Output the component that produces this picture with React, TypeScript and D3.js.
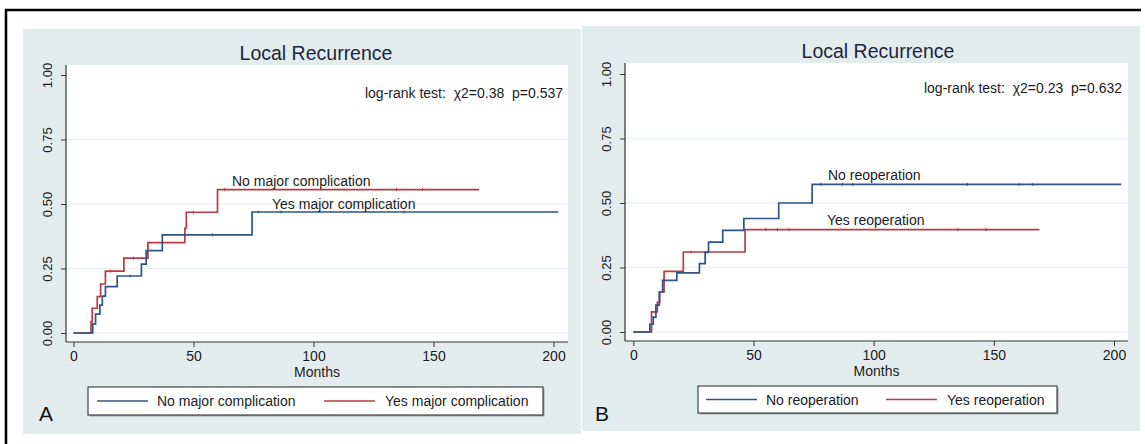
import React, { useEffect, useRef } from 'react';
import * as d3 from 'd3';

// ---- shared axis values ----
const monthTicks = [0, 50, 100, 150, 200];
const probTicks = [0, 0.25, 0.5, 0.75, 1];
const gridTicks = [0, 0.25, 0.5, 0.75];

// ---- panel A: major complication ----
const aNoMonths = [0, 8, 9.2, 11, 12, 13.3, 18.2, 28.3, 30.3, 37, 74.4, 202];
const aNoValues = [0, 0.035, 0.073, 0.108, 0.143, 0.18, 0.221, 0.267, 0.319, 0.38, 0.469, 0.469];
const aYesMonths = [0, 7.3, 7.8, 9.9, 11.3, 13.3, 21, 31, 46.4, 47, 60, 169];
const aYesValues = [0, 0.044, 0.096, 0.141, 0.19, 0.24, 0.29, 0.35, 0.406, 0.468, 0.556, 0.556];
const aNoCensor = [23.6, 58, 77, 86.5, 137.7];
const aYesCensor = [15.4, 25, 50, 63, 134.6, 145.4];
const aLegend = ['No major complication', 'Yes major complication'];
const aStat = 'log-rank test:  \u03C72=0.38  p=0.537';

// ---- panel B: reoperation ----
const bNoMonths = [0, 6.9, 8.3, 9.4, 10.8, 12.2, 18.1, 27.5, 29.9, 31.3, 37.2, 46, 60.5, 74.4, 203];
const bNoValues = [0, 0.03, 0.058, 0.104, 0.155, 0.2, 0.229, 0.265, 0.309, 0.348, 0.394, 0.44, 0.5, 0.572, 0.572];
const bYesMonths = [0, 7.6, 10, 11, 12.8, 20.8, 46.5, 169];
const bYesValues = [0, 0.078, 0.115, 0.155, 0.235, 0.31, 0.397, 0.397];
const bNoCensor = [78, 87, 91.3, 139, 160.6, 166];
const bYesCensor = [24, 55.2, 60, 64.7, 135, 146.7];
const bLegend = ['No reoperation', 'Yes reoperation'];
const bStat = 'log-rank test:  \u03C72=0.23  p=0.632';

const FONT = '"Liberation Sans", Arial, Helvetica, sans-serif';
const BG = '#e3eced';
const GRID = '#e6eef0';
const BLUE = '#2e5487';
const RED = '#b83a46';
const INK = '#1b1b1b';

const panels = [
  {
    letter: 'A',
    bg: [23, 29, 581, 434],
    plot: { left: 66, right: 568, top: 65, bottom: 342 },
    x0: 73.5, x200: 553.5, y0: 333, y1: 75,
    titleX: 316, titleY: 60,
    statRight: 563, statY: 98,
    no: { months: aNoMonths, values: aNoValues, censor: aNoCensor },
    yes: { months: aYesMonths, values: aYesValues, censor: aYesCensor },
    labels: [
      { text: 'No major complication', x: 232, y: 186 },
      { text: 'Yes major complication', x: 272, y: 209 },
    ],
    legendText: aLegend,
    legend: { x: 88, y: 387, w: 455, h: 28, l1: 97, t1: 157, l2: 324, t2: 385 },
    stat: aStat,
    letterX: 39, letterY: 421,
  },
  {
    letter: 'B',
    bg: [582, 26, 1140, 431],
    plot: { left: 625, right: 1128, top: 63, bottom: 341 },
    x0: 633.3, x200: 1114, y0: 332, y1: 74,
    titleX: 878, titleY: 58,
    statRight: 1122, statY: 93,
    no: { months: bNoMonths, values: bNoValues, censor: bNoCensor },
    yes: { months: bYesMonths, values: bYesValues, censor: bYesCensor },
    labels: [
      { text: 'No reoperation', x: 828, y: 180 },
      { text: 'Yes reoperation', x: 827, y: 225 },
    ],
    legendText: bLegend,
    legend: { x: 698, y: 386, w: 359, h: 27, l1: 706, t1: 766, l2: 886, t2: 947 },
    stat: bStat,
    letterX: 595, letterY: 421,
  },
];

const stepValue = (months, values, m) => {
  let v = values[0];
  months.forEach((t, i) => { if (t <= m) v = values[i]; });
  return v;
};

const drawPanel = (svg, p) => {
  const g = svg.append('g');

  g.append('rect')
    .attr('x', p.bg[0]).attr('y', p.bg[1])
    .attr('width', p.bg[2] - p.bg[0]).attr('height', p.bg[3] - p.bg[1])
    .attr('fill', BG);

  g.append('rect')
    .attr('x', p.plot.left).attr('y', p.plot.top)
    .attr('width', p.plot.right - p.plot.left).attr('height', p.plot.bottom - p.plot.top)
    .attr('fill', '#fff');

  const x = d3.scaleLinear().domain([0, 200]).range([p.x0, p.x200]);
  const y = d3.scaleLinear().domain([0, 1]).range([p.y0, p.y1]);

  // gridlines
  g.selectAll('line.grid')
    .data(gridTicks)
    .join('line')
    .attr('class', 'grid')
    .attr('x1', p.plot.left).attr('x2', p.plot.right)
    .attr('y1', d => y(d)).attr('y2', d => y(d))
    .attr('stroke', GRID).attr('stroke-width', 1.2);

  // y axis
  const yAxis = g.append('g')
    .attr('transform', `translate(${p.plot.left},0)`)
    .call(d3.axisLeft(y).tickValues(probTicks).tickFormat(d3.format('.2f')).tickSize(5));
  yAxis.select('.domain').remove();
  yAxis.selectAll('line').attr('stroke', '#333');
  yAxis.selectAll('text')
    .attr('transform', 'rotate(-90)')
    .attr('x', 0).attr('y', -14).attr('dy', 0)
    .attr('text-anchor', 'middle')
    .attr('font-family', FONT).attr('font-size', 13).attr('fill', INK);

  // x axis
  const xAxis = g.append('g')
    .attr('transform', `translate(0,${p.plot.bottom})`)
    .call(d3.axisBottom(x).tickValues(monthTicks).tickSize(5).tickPadding(4));
  xAxis.select('.domain').remove();
  xAxis.selectAll('line').attr('stroke', '#333');
  xAxis.selectAll('text')
    .attr('font-family', FONT).attr('font-size', 14).attr('fill', INK);

  g.append('line')
    .attr('x1', p.plot.left).attr('x2', p.plot.left)
    .attr('y1', p.plot.top).attr('y2', p.plot.bottom)
    .attr('stroke', '#333').attr('stroke-width', 1.2);
  g.append('line')
    .attr('x1', p.plot.left).attr('x2', p.plot.right)
    .attr('y1', p.plot.bottom).attr('y2', p.plot.bottom)
    .attr('stroke', '#333').attr('stroke-width', 1.2);

  g.append('text')
    .attr('x', (p.plot.left + p.plot.right) / 2).attr('y', p.plot.bottom + 35)
    .attr('text-anchor', 'middle')
    .attr('font-family', FONT).attr('font-size', 14).attr('fill', INK)
    .text('Months');

  // curves
  const line = d3.line().x(d => x(d[0])).y(d => y(d[1])).curve(d3.curveStepAfter);
  [[p.yes, RED], [p.no, BLUE]].forEach(([s, color]) => {
    const pts = s.months.map((m, i) => [m, s.values[i]]);
    g.append('path')
      .attr('d', line(pts))
      .attr('fill', 'none').attr('stroke', color).attr('stroke-width', 1.7);
    g.selectAll(null)
      .data(s.censor)
      .join('line')
      .attr('x1', d => x(d)).attr('x2', d => x(d))
      .attr('y1', d => y(stepValue(s.months, s.values, d)) - 1.5)
      .attr('y2', d => y(stepValue(s.months, s.values, d)) + 1.5)
      .attr('stroke', color).attr('stroke-width', 1);
  });

  // title + stat
  g.append('text')
    .attr('x', p.titleX).attr('y', p.titleY)
    .attr('text-anchor', 'middle')
    .attr('font-family', FONT).attr('font-size', 19.5).attr('fill', '#1c2540')
    .text('Local Recurrence');
  g.append('text')
    .attr('x', p.statRight).attr('y', p.statY)
    .attr('text-anchor', 'end')
    .attr('font-family', FONT).attr('font-size', 14).attr('fill', INK)
    .attr('xml:space', 'preserve')
    .style('white-space', 'pre')
    .text(p.stat);

  // labels on the curves
  g.selectAll(null)
    .data(p.labels)
    .join('text')
    .attr('x', d => d.x).attr('y', d => d.y)
    .attr('font-family', FONT).attr('font-size', 14).attr('fill', INK)
    .text(d => d.text);

  // legend
  const lg = p.legend;
  g.append('rect')
    .attr('x', lg.x + 1.5).attr('y', lg.y + 1.5).attr('width', lg.w).attr('height', lg.h)
    .attr('fill', '#9aa3a5');
  g.append('rect')
    .attr('x', lg.x).attr('y', lg.y).attr('width', lg.w).attr('height', lg.h)
    .attr('fill', '#fff').attr('stroke', '#444').attr('stroke-width', 1.2);
  const ly = lg.y + lg.h / 2;
  g.append('line').attr('x1', lg.l1).attr('x2', lg.l1 + 51).attr('y1', ly).attr('y2', ly)
    .attr('stroke', BLUE).attr('stroke-width', 1.7);
  g.append('line').attr('x1', lg.l2).attr('x2', lg.l2 + 51).attr('y1', ly).attr('y2', ly)
    .attr('stroke', RED).attr('stroke-width', 1.7);
  g.append('text').attr('x', lg.t1).attr('y', ly + 5)
    .attr('font-family', FONT).attr('font-size', 14).attr('fill', INK)
    .text(p.legendText[0]);
  g.append('text').attr('x', lg.t2).attr('y', ly + 5)
    .attr('font-family', FONT).attr('font-size', 14).attr('fill', INK)
    .text(p.legendText[1]);

  // panel letter
  g.append('text')
    .attr('x', p.letterX).attr('y', p.letterY)
    .attr('font-family', FONT).attr('font-size', 21).attr('fill', '#111')
    .text(p.letter);
};

const App = () => {
  const ref = useRef(null);

  useEffect(() => {
    const svg = d3.select(ref.current);
    svg.selectAll('*').remove();

    svg.append('rect').attr('width', 1145).attr('height', 444).attr('fill', '#fff');

    panels.forEach(p => drawPanel(svg, p));

    // outer frame (top and left edges show in the crop)
    svg.append('line').attr('x1', 5).attr('x2', 1141).attr('y1', 10).attr('y2', 10)
      .attr('stroke', '#000').attr('stroke-width', 2.5);
    svg.append('line').attr('x1', 6).attr('x2', 6).attr('y1', 9).attr('y2', 444)
      .attr('stroke', '#000').attr('stroke-width', 2.5);
  }, []);

  return (
    <svg
      ref={ref}
      width={1145}
      height={444}
      style={{ position: 'absolute', left: 0, top: 0, display: 'block' }}
    />
  );
};

export default App;
